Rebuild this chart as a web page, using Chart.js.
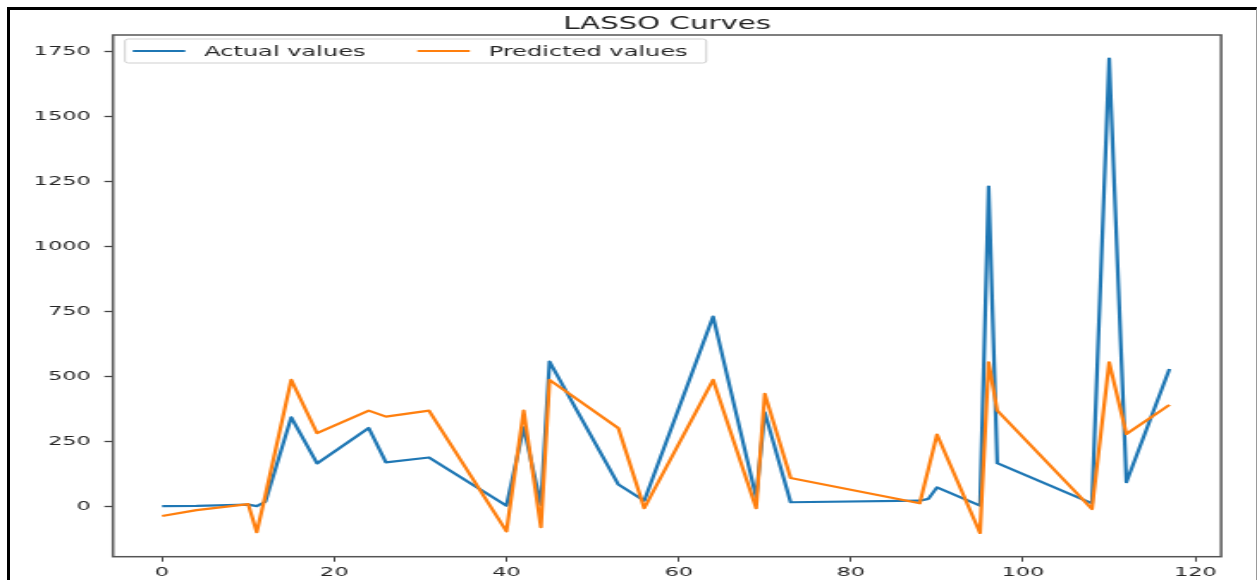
<!DOCTYPE html>
<html>
<head>
<meta charset="utf-8">
<title>LASSO Curves</title>
<script src="https://cdn.jsdelivr.net/npm/chart.js@4/dist/chart.umd.min.js"></script>
<style>
  html, body { margin: 0; padding: 0; background: #ffffff; overflow: hidden; }
  body { width: 1257px; height: 580px; position: relative; }
  #wrap { position: absolute; left: 0; top: 0; width: 731px; height: 580px;
          transform: scaleX(1.7196); transform-origin: 0 0; }
  #chart { display: block; }
  #frame { position: absolute; left: 7px; top: 7px; width: 1250px; height: 640px;
           box-sizing: border-box; border-left: 3px solid #000; border-top: 3px solid #000;
           border-right: 1px solid #9a9a9a; pointer-events: none; }
</style>
</head>
<body>
<div id="wrap"><canvas id="chart" width="731" height="580" style="width:731px;height:580px"></canvas></div>
<div id="frame"></div>
<script>
// Sample index of each test point (x axis)
const xIndex = [0, 4, 10, 11, 12, 15, 18, 24, 26, 31, 40, 42, 44, 45, 53, 56, 64, 69, 70, 73,
                88, 89, 90, 95, 96, 97, 108, 110, 112, 117];
// Observed target values
const actualValues = [3, 4, 9, 3, 20, 344, 167, 303, 171, 190, 5, 306, 8, 558, 86, 24, 731, 37, 363, 18,
                      24, 31, 75, 5, 1230, 168, 14, 1721, 95, 530];
// LASSO model predictions
const predictedValues = [-35, -12, 11, -97, 45, 488, 283, 370, 347, 370, -94, 370, -78, 488, 302, -5, 488, -5, 434, 111,
                         14, 145, 278, -100, 555, 370, -8, 555, 280, 392];
const xTicks = [0, 20, 40, 60, 80, 100, 120];
const yTicks = [0, 250, 500, 750, 1000, 1250, 1500, 1750];
const seriesNames = ['Actual values', 'Predicted values'];
const titleText = 'LASSO Curves';

const BLUE = '#1f77b4';
const ORANGE = '#ff7f0e';
const FONT = "'DejaVu Sans', 'Liberation Sans', sans-serif";

const toPoints = ys => xIndex.map((x, i) => ({ x: x, y: ys[i] }));

// Axes box drawn on all four sides
const axesFrame = {
  id: 'axesFrame',
  afterDatasetsDraw(chart) {
    const a = chart.chartArea, ctx = chart.ctx;
    ctx.save();
    ctx.strokeStyle = '#555555';
    ctx.lineWidth = 1.5;
    ctx.strokeRect(a.left, a.top, a.right - a.left, a.bottom - a.top);
    ctx.restore();
  }
};

// Two-column legend inside the upper-left corner of the axes
const insideLegend = {
  id: 'insideLegend',
  afterDraw(chart) {
    const a = chart.chartArea, ctx = chart.ctx;
    const bx = a.left + 7, by = a.top + 4, bw = 338, bh = 24;
    ctx.save();
    ctx.fillStyle = 'rgba(255,255,255,0.85)';
    ctx.strokeStyle = '#cfcfcf';
    ctx.lineWidth = 1;
    ctx.beginPath();
    ctx.roundRect(bx, by, bw, bh, 2);
    ctx.fill();
    ctx.stroke();
    const cy = by + 12;
    const items = [
      { color: BLUE, label: seriesNames[0], x: bx + 4.5 },
      { color: ORANGE, label: seriesNames[1], x: bx + 170 }
    ];
    ctx.font = '14px ' + FONT;
    ctx.textBaseline = 'middle';
    ctx.textAlign = 'left';
    items.forEach(it => {
      ctx.strokeStyle = it.color;
      ctx.lineWidth = 2;
      ctx.beginPath();
      ctx.moveTo(it.x, cy);
      ctx.lineTo(it.x + 30.5, cy);
      ctx.stroke();
      ctx.fillStyle = '#262626';
      ctx.fillText(it.label, it.x + 41.5, cy + 1.5);
    });
    ctx.restore();
  }
};

new Chart(document.getElementById('chart'), {
  type: 'line',
  data: {
    datasets: [
      { label: seriesNames[0], data: toPoints(actualValues), borderColor: BLUE, backgroundColor: BLUE,
        borderWidth: 2.2, pointRadius: 0, tension: 0, fill: false, order: 1,
        borderJoinStyle: 'round' },
      { label: seriesNames[1], data: toPoints(predictedValues), borderColor: ORANGE, backgroundColor: ORANGE,
        borderWidth: 2.2, pointRadius: 0, tension: 0, fill: false, order: 0,
        borderJoinStyle: 'round' }
    ]
  },
  options: {
    responsive: false,
    devicePixelRatio: 1,
    animation: false,
    events: [],
    layout: { padding: { left: 0, right: 20.9, top: 0, bottom: 0 } },
    plugins: {
      legend: { display: false },
      tooltip: { enabled: false },
      title: {
        display: true,
        text: titleText,
        fullSize: false,
        color: '#222222',
        font: { family: FONT, size: 17, weight: 'normal', lineHeight: 1.2 },
        padding: { top: 14.5, bottom: 0.1 }
      }
    },
    scales: {
      x: {
        type: 'linear',
        min: -5.7,
        max: 123,
        afterBuildTicks: s => { s.ticks = xTicks.map(v => ({ value: v })); },
        afterFit: s => { s.height = 23.3; },
        grid: { display: true, drawOnChartArea: false, drawTicks: true, tickLength: 5,
                tickColor: '#444444', tickWidth: 1 },
        border: { display: false },
        ticks: { color: '#262626', padding: 3, maxRotation: 0, autoSkip: false,
                 font: { family: FONT, size: 13 },
                 callback: v => String(v) }
      },
      y: {
        type: 'linear',
        min: -191,
        max: 1812,
        afterBuildTicks: s => { s.ticks = yTicks.map(v => ({ value: v })); },
        afterFit: s => { s.width = 65.7; },
        grid: { display: true, drawOnChartArea: false, drawTicks: true, tickLength: 5,
                tickColor: '#444444', tickWidth: 1.3 },
        border: { display: false },
        ticks: { color: '#262626', padding: 8, autoSkip: false,
                 font: { family: FONT, size: 13 },
                 callback: v => String(v) }
      }
    }
  },
  plugins: [axesFrame, insideLegend]
});
</script>
</body>
</html>
